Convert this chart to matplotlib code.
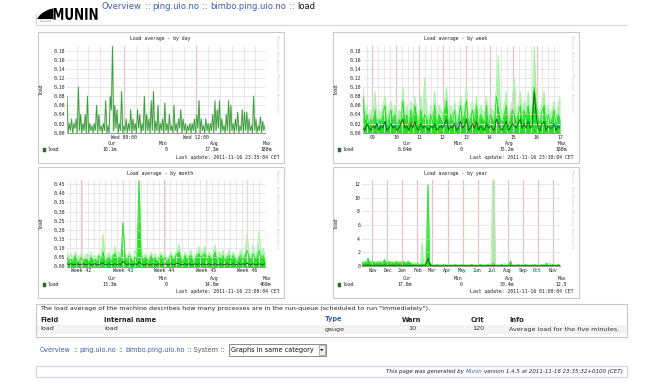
import numpy as np
import matplotlib
matplotlib.use('Agg')
import matplotlib.pyplot as plt
from matplotlib.patches import Rectangle, Polygon, PathPatch
from matplotlib.lines import Line2D
from matplotlib.font_manager import FontProperties
from matplotlib.textpath import TextPath
from matplotlib.transforms import Affine2D

W, H = 665, 388
plt.rcParams['font.family'] = 'DejaVu Sans Mono'

# ---- values (load in 1/100 unless noted) ----
# day: trough/peak pairs, Tue 14:00 .. Wed 23:35
day_load = [
    8, 0, 2, 0.5, 3, 0, 2, 1, 3, 0, 10, 0.5, 4, 0, 2, 0.5, 4, 0, 8, 0,
    2, 0.5, 1.5, 0, 2, 0.5, 6, 0, 4, 0.5, 1.5, 0, 2, 0.5, 7, 0, 1.5, 0, 8, 5,
    19, 0.5, 6, 1, 5, 0, 2, 0.5, 9, 0, 1.5, 0.5, 3, 0, 2, 0.5, 5, 0, 3, 0.5,
    2, 0, 5, 1, 4, 0, 2, 0.5, 8, 0, 4, 0.5, 3, 0, 7, 0.5, 9, 0, 2.5, 0.5,
    6, 0, 2, 0.5, 3, 0, 6.5, 0.5, 2, 0,
    4, 0.5, 1.5, 0, 6, 0.5, 2, 0, 3, 1, 5, 0, 3, 0.5, 2, 0, 1.5, 0.5, 2, 0,
    2, 0.5, 3, 0, 4, 1, 7, 0, 3, 0.5, 1.5, 0, 3, 0.5, 2, 0, 2, 0.5, 4, 0,
    7, 0.5, 5, 1, 7, 0, 3, 0.5, 1.5, 0, 4, 0.5, 7, 0, 6, 0.5, 2, 0, 3, 0.5,
    4.5, 0, 1.5, 0.5, 5, 0, 4.5, 0.5, 4.5, 0, 3, 0.5, 1.5, 0, 8, 0.5, 3, 0, 1.5, 0.5,
    3.5, 0, 2.5, 0.5, 1.5]

# week: max / avg / min, Nov 8 .. Nov 16
week_max = [
    10, 4, 6, 3, 5, 4, 9, 3, 5, 4, 6, 8, 3, 5, 7, 4, 6, 3, 5, 4,
    10, 4, 6, 3, 7, 4, 8, 5, 3, 8, 4, 12, 5, 3, 6, 4, 9, 3, 6, 5,
    4, 7, 10, 3, 6, 4, 7, 3, 5, 8, 4, 6, 10, 3, 5, 7, 4, 8, 3, 6,
    5, 4, 8, 3, 6, 5, 4, 10, 17, 5, 4, 6, 9, 3, 5, 7, 12, 4, 6, 9,
    4, 7, 5, 9, 4, 6, 19, 8, 5, 4, 7, 9, 3, 6, 4, 5, 7, 3, 6, 8]
week_avg = [
    8, 2, 4, 1, 3, 2, 5, 1, 3, 2, 4, 6, 1, 3, 5, 2, 4, 1, 3, 2,
    7, 2, 4, 1, 5, 2, 6, 3, 1, 5, 2, 4, 3, 1, 4, 2, 6, 1, 4, 3,
    2, 5, 7, 1, 4, 2, 5, 1, 3, 6, 2, 4, 7, 1, 3, 5, 2, 6, 1, 4,
    3, 2, 6, 1, 4, 3, 2, 8, 5, 3, 2, 4, 6, 1, 3, 5, 4, 2, 4, 6,
    2, 5, 3, 6, 2, 4, 10, 6, 3, 2, 5, 6, 1, 4, 2, 3, 5, 1, 4, 3]
week_min = [
    1, 0.5, 2, 1, 0.5, 1.5, 1, 2, 0.5, 1.5, 1, 2.5, 0.5, 1, 2, 1, 1.5, 0.5, 1, 2,
    3, 1, 1.5, 0.5, 2, 1, 2.5, 1, 0.5, 2, 1, 1.5, 1, 0.5, 1.5, 1, 2, 0.5, 1, 1.5,
    1, 2, 3, 0.5, 1.5, 1, 2, 0.5, 1, 2.5, 1, 1.5, 3, 0.5, 1, 2, 1, 2.5, 0.5, 1.5,
    1, 0.5, 2, 1, 1.5, 1, 0.5, 3, 2, 1, 0.5, 1.5, 2.5, 0.5, 1, 2, 1.5, 1, 2, 3,
    1, 2, 1, 2.5, 1, 1.5, 9, 4, 1, 0.5, 2, 2.5, 0.5, 1.5, 1, 1, 2, 0.5, 1.5, 1]

# month: max / avg / min, week 41 .. week 46
month_max = [
    8, 5, 7, 4, 8, 6, 5, 7, 4, 6, 7, 5, 8, 4, 6, 5, 7, 4, 18, 5,
    6, 8, 4, 7, 11, 5, 8, 6, 24, 7, 5, 8, 6, 4, 9, 6, 47, 12, 5, 7,
    6, 4, 8, 5, 7, 4, 6, 8, 5, 7, 4, 6, 8, 5, 7, 9, 12, 6, 4, 8,
    5, 7, 9, 4, 6, 8, 11, 7, 9, 11, 5, 8, 6, 7, 12, 4, 8, 6, 9, 5,
    7, 9, 5, 8, 6, 4, 7, 9, 6, 8, 18, 7, 5, 12, 6, 8, 19, 7, 10, 6]
month_avg = [
    5, 3, 4, 2, 6, 3, 2, 5, 3, 4, 4, 2, 5, 3, 4, 2, 6, 3, 8, 2,
    4, 5, 2, 6, 7, 3, 5, 4, 24, 5, 3, 6, 4, 2, 5, 4, 47, 6, 3, 5,
    4, 2, 6, 3, 5, 2, 4, 6, 3, 5, 2, 4, 6, 3, 5, 7, 8, 4, 2, 6,
    3, 5, 6, 2, 4, 6, 7, 5, 6, 7, 3, 6, 4, 5, 8, 2, 5, 4, 6, 3,
    5, 6, 3, 6, 4, 2, 5, 6, 4, 5, 9, 5, 3, 7, 4, 5, 9, 4, 6, 3]
month_min = [
    1.5, 1, 1.5, 1, 1, 1.5, 1, 1, 1.5, 1, 1, 1.5, 1, 1, 1.5, 1, 1, 1.5, 2, 1,
    1, 1.5, 1, 1, 1.5, 1, 1.5, 1, 3, 1.5, 1, 1.5, 1, 1, 1.5, 1, 2.5, 1.5, 1, 1,
    1.5, 1, 1, 1.5, 1, 1, 1.5, 1, 1, 1.5, 1, 1, 1.5, 1, 1, 2, 1.5, 1, 1, 1.5,
    1, 1.5, 1, 1, 1.5, 1, 1.5, 1, 1.5, 1, 1, 1.5, 1, 1, 1.5, 1, 1, 1.5, 1, 1,
    1.5, 1, 1, 1.5, 1, 1, 1.5, 1, 1.5, 1, 2, 1, 1, 1.5, 1, 1, 1.5, 1, 1, 1.5]

# year: max / avg / min (plain load units), Oct 2010 .. Nov 2011
year_max = [
    0.7, 0.6, 0.8, 0.6, 1.2, 0.7, 0.6, 0.8, 0.7, 0.6, 0.7, 0.6, 0.8, 0.6, 0.7, 1.0, 0.7, 0.6, 0.8, 0.6,
    0.7, 0.6, 0.7, 0.8, 0.6, 0.7, 0.6, 0.8, 0.7, 0.6, 0.7, 0.8, 0.6, 0.5, 0.4, 0.5, 0.4, 0.6, 0.4, 0.4,
    3.5, 0.4, 0.5, 5.2, 12.0, 0.8, 0.4, 0.2, 0.2, 0.2, 0.3, 0.2, 0.2, 0.2, 0.2, 0.3, 0.2, 0.2, 0.2, 0.2,
    0.2, 0.2, 0.3, 0.2, 0.2, 0.2, 0.2, 0.3, 0.2, 0.2, 0.2, 0.2, 0.2, 0.3, 0.2, 0.2, 0.2, 0.2, 0.2, 0.3,
    0.2, 0.2, 0.2, 0.2, 0.3, 0.2, 0.2, 12.5, 12.5, 0.2, 0.2, 0.2, 0.2, 0.3, 0.2, 0.4, 0.2, 0.2, 0.3, 0.8,
    0.2, 0.2, 0.2, 0.2, 0.3, 0.2, 0.2, 0.2, 0.2, 0.3, 0.2, 0.2, 0.2, 0.2, 0.2, 0.3, 0.2, 0.2, 0.2, 0.2,
    0.3, 0.2, 0.2, 0.5, 0.2, 0.5, 0.2, 0.3, 0.2, 0.2, 0.2, 0.3, 0.2]
year_avg = [
    0.5, 0.4, 0.6, 0.4, 1.1, 0.5, 0.4, 0.6, 0.5, 0.4, 0.5, 0.4, 0.6, 0.4, 0.5, 0.9, 0.5, 0.4, 0.6, 0.4,
    0.5, 0.4, 0.5, 0.6, 0.4, 0.5, 0.4, 0.6, 0.5, 0.4, 0.5, 0.6, 0.4, 0.3, 0.2, 0.3, 0.2, 0.3, 0.2, 0.2,
    0.3, 0.2, 0.3, 0.5, 11.9, 0.6, 0.2, 0.1, 0.1, 0.1, 0.2, 0.1, 0.1, 0.1, 0.1, 0.2, 0.1, 0.1, 0.1, 0.1,
    0.1, 0.1, 0.2, 0.1, 0.1, 0.1, 0.1, 0.2, 0.1, 0.1, 0.1, 0.1, 0.1, 0.2, 0.1, 0.1, 0.1, 0.1, 0.1, 0.2,
    0.1, 0.1, 0.1, 0.1, 0.2, 0.1, 0.1, 0.4, 0.3, 0.1, 0.1, 0.1, 0.1, 0.2, 0.1, 0.1, 0.1, 0.1, 0.2, 0.7,
    0.1, 0.1, 0.1, 0.1, 0.2, 0.1, 0.1, 0.1, 0.1, 0.2, 0.1, 0.1, 0.1, 0.1, 0.1, 0.2, 0.1, 0.1, 0.1, 0.1,
    0.2, 0.1, 0.1, 0.4, 0.1, 0.1, 0.1, 0.2, 0.1, 0.1, 0.1, 0.2, 0.1]
year_min = [
    0.1, 0.1, 0.1, 0.1, 0.15, 0.1, 0.1, 0.1, 0.1, 0.1, 0.1, 0.1, 0.1, 0.1, 0.1, 0.12, 0.1, 0.1, 0.1, 0.1,
    0.1, 0.1, 0.1, 0.1, 0.1, 0.1, 0.1, 0.1, 0.1, 0.1, 0.1, 0.1, 0.08, 0.06, 0.05, 0.05, 0.05, 0.05, 0.05, 0.05,
    0.08, 0.05, 0.05, 0.5, 1.1, 0.3, 0.05, 0.04, 0.04, 0.04, 0.04, 0.04, 0.04, 0.04, 0.04, 0.04, 0.04, 0.04, 0.04, 0.04,
    0.04, 0.04, 0.04, 0.04, 0.04, 0.04, 0.04, 0.04, 0.04, 0.04, 0.04, 0.04, 0.04, 0.04, 0.04, 0.04, 0.04, 0.04, 0.04, 0.04,
    0.04, 0.04, 0.04, 0.04, 0.04, 0.04, 0.04, 0.1, 0.08, 0.04, 0.04, 0.04, 0.04, 0.04, 0.04, 0.04, 0.04, 0.04, 0.04, 0.06,
    0.04, 0.04, 0.04, 0.04, 0.04, 0.04, 0.04, 0.04, 0.04, 0.04, 0.04, 0.04, 0.04, 0.04, 0.04, 0.04, 0.04, 0.04, 0.04, 0.04,
    0.04, 0.04, 0.04, 0.05, 0.04, 0.04, 0.04, 0.04, 0.04, 0.04, 0.04, 0.04, 0.04]

# legend numbers: cur, min, avg, max
day_stats = ['10.1m', '0', '17.3m', '188m']
week_stats = ['6.64m', '0', '15.2m', '188m']
month_stats = ['13.3m', '0', '14.0m', '469m']
year_stats = ['17.6m', '0', '30.4m', '12.5']
updates = ['2011-11-16 23:35:04 CET', '2011-11-16 23:30:04 CET',
           '2011-11-16 23:00:04 CET', '2011-11-16 01:00:04 CET']

load_ticks = [0, 0.02, 0.04, 0.06, 0.08, 0.10, 0.12, 0.14, 0.16, 0.18]
month_ticks = [0, 0.05, 0.10, 0.15, 0.20, 0.25, 0.30, 0.35, 0.40, 0.45]
year_ticks = [0, 2, 4, 6, 8, 10, 12]
day_hours = [0, 12]
day_labels = ['Wed 00:00', 'Wed 12:00']
week_days = [9, 10, 11, 12, 13, 14, 15, 16, 17]
week_labels = ['09', '10', '11', '12', '13', '14', '15', '16', '17']
month_weeks = [42, 43, 44, 45, 46]
month_labels = ['Week 42', 'Week 43', 'Week 44', 'Week 45', 'Week 46']
year_labels = ['Nov', 'Dec', 'Jan', 'Feb', 'Mar', 'Apr', 'May', 'Jun',
               'Jul', 'Aug', 'Sep', 'Oct', 'Nov']

LINK = '#3a5cb0'
LIGHT, BRIGHT, DARK = '#a6f2a6', '#22e022', '#0d6e0d'

fig = plt.figure(figsize=(W / 100, H / 100), dpi=100)
fig.patch.set_facecolor('white')


def txt(x, y, s, size, **kw):
    return fig.text(x / W, 1 - y / H, s, fontsize=size, **kw)


def box(x, y, w, h, **kw):
    fig.patches.append(Rectangle((x / W, 1 - (y + h) / H), w / W, h / H,
                                 transform=fig.transFigure, **kw))


def hline(x0, x1, y, **kw):
    fig.add_artist(Line2D([x0 / W, x1 / W], [1 - y / H, 1 - y / H], **kw))


def text_w(s, prop):
    r = fig.canvas.get_renderer()
    return (r.get_text_width_height_descent(s + 'I', prop, ismath=False)[0]
            - r.get_text_width_height_descent('I', prop, ismath=False)[0])


def chain(x, y, parts, size, style='normal'):
    # draw coloured pieces one after the other on one line
    prop = FontProperties(family='DejaVu Sans', size=size, style=style)
    for s, c in parts:
        lead = len(s) - len(s.lstrip())
        txt(x + text_w(s[:lead], prop), y, s.strip(), size, color=c, va='center',
            family='DejaVu Sans', style=style)
        x += text_w(s, prop)
    return x


def graph(x0, y0, plot, title, xlim, ylim, yticks, ylabels, xticks, xlabels, xminor, stats, upd):
    box(x0, y0, 246, 130.5, fill=False, ec='#c9c9c9', lw=0.8)
    px, py, pw, ph = plot
    ax = fig.add_axes([px / W, 1 - (py + ph) / H, pw / W, ph / H])
    ax.set_xlim(xlim)
    ax.set_ylim(ylim)
    ax.set_yticks(yticks, ylabels)
    ax.set_xticks(xticks, xlabels)
    ax.set_xticks(xminor, minor=True)
    ax.tick_params(which='both', length=0, labelsize=3.5, pad=1.4, colors='#222222')
    ax.grid(axis='y', color='#e2e2e2', lw=0.6)
    ax.grid(axis='x', which='minor', color='#e4e4e4', lw=0.6)
    ax.grid(axis='x', which='major', color='#e2c2c2', lw=0.9)
    for s in ['top', 'right', 'left']:
        ax.spines[s].set_visible(False)
    ax.spines['bottom'].set_color('#9a9a9a')
    ax.spines['bottom'].set_linewidth(0.8)

    txt(x0 + 123, y0 + 6.5, title, 3.5, ha='center', va='center', color='#222222')
    txt(x0 + 4, py + ph / 2, 'load', 3.5, ha='center', va='center', rotation=90, color='#222222')
    txt(x0 + 239.5, y0 + 3, 'Munin Hardware/Morten Hustveit', 3.2, ha='center', va='top',
        rotation=270, color='#cfcfcf')
    for cx, head, val in zip([79, 130, 181.5, 234], ['Cur', 'Min', 'Avg', 'Max'], stats):
        txt(x0 + cx, y0 + 111.5, head, 3.5, ha='right', va='center', color='#222222')
        txt(x0 + cx, y0 + 118, val, 3.5, ha='right', va='center', color='#222222')
    box(x0 + 5, y0 + 116.3, 3.4, 3.4, fc='#1f7d1f', ec='#444444', lw=0.3)
    txt(x0 + 10.5, y0 + 118, 'load', 3.5, ha='left', va='center', color='#222222')
    txt(x0 + 241.5, y0 + 125, 'Last update: ' + upd, 3.5, ha='right', va='center', color='#222222')
    return ax


def layers(ax, x, hi, mid, lo, scale):
    hi, mid, lo = np.array(hi) * scale, np.array(mid) * scale, np.array(lo) * scale
    ax.fill_between(x, 0, hi, color=LIGHT, lw=0)
    ax.plot(x, hi, color=LIGHT, lw=0.6)
    ax.fill_between(x, 0, mid, color=BRIGHT, lw=0)
    ax.plot(x, mid, color=BRIGHT, lw=0.6)
    ax.plot(x, lo, color=DARK, lw=0.7)


# --- day ---
ax = graph(37.5, 32, (67, 46, 198, 86.7), 'Load average - by day', (-9.6, 23.6), (0, 0.19),
           load_ticks, ['%.2f' % v for v in load_ticks], day_hours, day_labels,
           np.arange(-8, 24, 2), day_stats, updates[0])
dx = np.linspace(-9.6, 23.6, len(day_load))
ax.plot(dx, np.array(day_load) / 100, color='#c4e6c4', lw=1.2)
ax.plot(dx, np.array(day_load) / 100, color='#3d9a3d', lw=0.6)

# --- week ---
ax = graph(332.5, 32, (363, 46, 197, 86.7), 'Load average - by week', (8.6, 17.0), (0, 0.19),
           load_ticks, ['%.2f' % v for v in load_ticks], week_days, week_labels,
           np.arange(8.75, 17, 0.25), week_stats, updates[1])
layers(ax, np.linspace(8.6, 17.0, len(week_max)), week_max, week_avg, week_min, 0.01)

# --- month ---
ax = graph(37.5, 167, (67, 180, 198, 86.5), 'Load average - by month', (41.65, 46.43), (0, 0.472),
           month_ticks, ['%.2f' % v for v in month_ticks], month_weeks, month_labels,
           np.arange(41.72, 46.43, 1 / 7), month_stats, updates[2])
layers(ax, np.linspace(41.65, 46.43, len(month_max)), month_max, month_avg, month_min, 0.01)

# --- year ---
ax = graph(332.5, 167, (362, 180, 198, 86), 'Load average - by year', (-0.7, 12.5), (0, 12.6),
           year_ticks, [str(v) for v in year_ticks], np.arange(13), year_labels,
           [], year_stats, updates[3])
layers(ax, np.linspace(-0.7, 12.5, len(year_max)), year_max, year_avg, year_min, 1.0)

# --- page header ---
fig.add_artist(Line2D([36 / W, 36 / W], [1 - 14 / H, 1 - 25 / H], color='#d3d7ec', lw=0.8))
hline(36, 627, 25, color='#d3d7ec', lw=0.8)
box(40, 16, 10, 4.5, fc='#e6f2dc', ec='#9acb8a', lw=0.4)
wing = [(37, 19), (39.5, 15.5), (43, 12.5), (47, 10.3), (50.5, 9), (53, 8.6), (53, 19)]
fig.patches.append(Polygon([(x / W, 1 - y / H) for x, y in wing], closed=True,
                           transform=fig.transFigure, fc='black', ec='none'))
# logo word squeezed into its box (x 53..97, caps 8..20)
logo = TextPath((0, 0), 'MUNIN', size=1, prop=FontProperties(family='DejaVu Sans', weight='bold'))
lb = logo.get_extents()
logo_tf = (Affine2D().translate(-lb.x0, -lb.y0)
           .scale(44 / lb.width / W, 12 / lb.height / H)
           .translate(53.5 / W, 1 - 20 / H) + fig.transFigure)
fig.patches.append(PathPatch(logo, transform=logo_tf, fc='black', ec='none'))
chain(102, 6.2, [('Overview', LINK), (' :: ', '#555555'), ('ping.uio.no', LINK),
                 (' :: ', '#555555'), ('bimbo.ping.uio.no', LINK), (' :: ', '#555555'),
                 ('load', '#111111')], 6.0)

# --- field table ---
box(36, 304, 591, 33, fill=False, ec='#c6c6c6', lw=0.8)
box(37, 324.5, 589, 9.5, fc='#f3f3f3', ec='none')
txt(40, 308.5, 'The load average of the machine describes how many processes are in the '
    'run-queue (scheduled to run "immediately").', 4.6, family='DejaVu Sans', va='center',
    color='#222222')
for x, s, c in [(40, 'Field', '#222222'), (104, 'Internal name', '#222222'), (325, 'Type', LINK),
                (402, 'Warn', '#222222'), (471, 'Crit', '#222222'), (509, 'Info', '#222222')]:
    txt(x, 319.5, s, 4.8, family='DejaVu Sans', weight='bold', va='center', color=c)
for x, s in [(40, 'load'), (104, 'load'), (325, 'gauge'), (408, '10'), (472, '120'),
             (509, 'Average load for the five minutes.')]:
    txt(x, 329, s, 4.6, family='DejaVu Sans', va='center', color='#333333')

# --- bottom navigation ---
chain(40, 350, [('Overview', LINK), (' :: ', '#555555'), ('ping.uio.no', LINK),
                (' :: ', '#555555'), ('bimbo.ping.uio.no', LINK),
                (' :: System :: ', '#555555')], 4.7)
box(229, 344, 97, 12, fc='white', ec='#8a8a8a', lw=0.7)
txt(231, 350, 'Graphs in same category', 4.7, family='DejaVu Sans', va='center', color='#111111')
box(318.5, 345.3, 6.5, 9.4, fc='#eeeeee', ec='#9a9a9a', lw=0.5)
arrow = [(320.2, 349), (323.3, 349), (321.75, 351.2)]
fig.patches.append(Polygon([(x / W, 1 - y / H) for x, y in arrow], closed=True,
                           transform=fig.transFigure, fc='black', ec='none'))

# --- footer ---
box(36, 366, 591, 11, fill=False, ec='#d0d4ec', lw=0.8)
fprop = FontProperties(family='DejaVu Sans', size=4.0, style='italic')
foot = [('This page was generated by ', '#222222'), ('Munin', LINK),
        (' version 1.4.5 at 2011-11-16 23:35:32+0100 (CET)', '#222222')]
total = sum(text_w(s, fprop) for s, c in foot)
chain(623 - total, 371.5, foot, 4.0, style='italic')

fig.savefig('out.png', dpi=100)
